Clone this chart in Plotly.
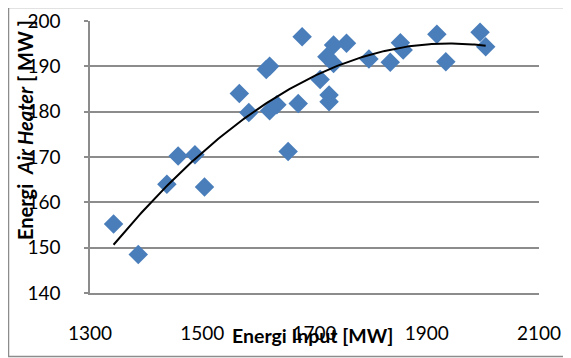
import numpy as np
import plotly.graph_objects as go

# Data
energi_input = [1342, 1386, 1437, 1457, 1487, 1504, 1566, 1583, 1614, 1620,
                1620, 1633, 1653, 1671, 1678, 1710, 1722, 1726, 1726, 1734,
                1734, 1757, 1797, 1835, 1853, 1858, 1918, 1934, 1995, 2005]
energi_air_heater = [155.2, 148.5, 164.0, 170.2, 170.5, 163.4, 184.0, 179.8, 189.3, 190.0,
                     180.2, 181.5, 171.2, 181.8, 196.5, 187.1, 192.1, 183.7, 182.2, 194.7,
                     190.6, 195.1, 191.6, 190.9, 195.2, 193.6, 197.1, 191.0, 197.5, 194.3]

x_ticks = [1300, 1500, 1700, 1900, 2100]
y_ticks = [140, 150, 160, 170, 180, 190, 200]

# Polynomial (order 2) trendline, as in the original chart
coef = np.polyfit(energi_input, energi_air_heater, 2)
tx = np.linspace(min(energi_input), max(energi_input), 200)
ty = np.polyval(coef, tx)

FONT = "Lato, Carlito, Calibri, sans-serif"
GRID = "#8C8C8C"

# page is offset by the 8px body margin: plot area spans page x 90..539, y 21..293
fig = go.Figure()
fig.add_trace(go.Scatter(
    x=energi_input, y=energi_air_heater, mode="markers",
    marker=dict(symbol="diamond", size=15, color="#4A7EBB", line=dict(width=0)),
    showlegend=False, hoverinfo="skip"))
fig.add_trace(go.Scatter(
    x=tx, y=ty, mode="lines", line=dict(color="black", width=2),
    showlegend=False, hoverinfo="skip"))

fig.update_layout(
    width=563, height=350,
    margin=dict(l=82, r=32, t=13, b=65, autoexpand=False),
    paper_bgcolor="white", plot_bgcolor="white",
    font=dict(family=FONT, size=19, color="black"),
    xaxis=dict(range=[1300, 2100], tickvals=x_ticks, showgrid=False,
               showline=True, linecolor=GRID, linewidth=1.5,
               ticks="outside", ticklen=22, tickcolor="rgba(0,0,0,0)",
               zeroline=False, fixedrange=True, automargin=False),
    yaxis=dict(range=[140, 200], tickvals=y_ticks, showgrid=True,
               gridcolor=GRID, gridwidth=1.5,
               showline=True, linecolor=GRID, linewidth=1.5,
               ticks="outside", ticklen=4, tickcolor=GRID, tickwidth=1.5,
               ticklabelstandoff=20,
               zeroline=False, fixedrange=True, automargin=False),
    shapes=[dict(type="rect", xref="paper", yref="paper",
                 x0=(8.5 - 90) / 449, x1=(580 - 90) / 449,
                 y0=(293 - 356.5) / 272, y1=(293 - 7.5) / 272,
                 line=dict(color=GRID, width=1.5), fillcolor="rgba(0,0,0,0)",
                 layer="below")],
    annotations=[
        dict(text="<b>Energi Input [MW]</b>", xref="paper", yref="paper",
             x=(312 - 90) / 449, y=(293 - 335) / 272, showarrow=False,
             xanchor="center", yanchor="middle", font=dict(size=19.5)),
        dict(text="<b>Energi  <i>Air Heater</i> [ MW ]</b>", xref="paper", yref="paper",
             x=(25 - 90) / 449, y=(293 - 130) / 272, showarrow=False, textangle=-90,
             xanchor="center", yanchor="middle", font=dict(size=20)),
    ],
)

fig.write_html("out.html")
